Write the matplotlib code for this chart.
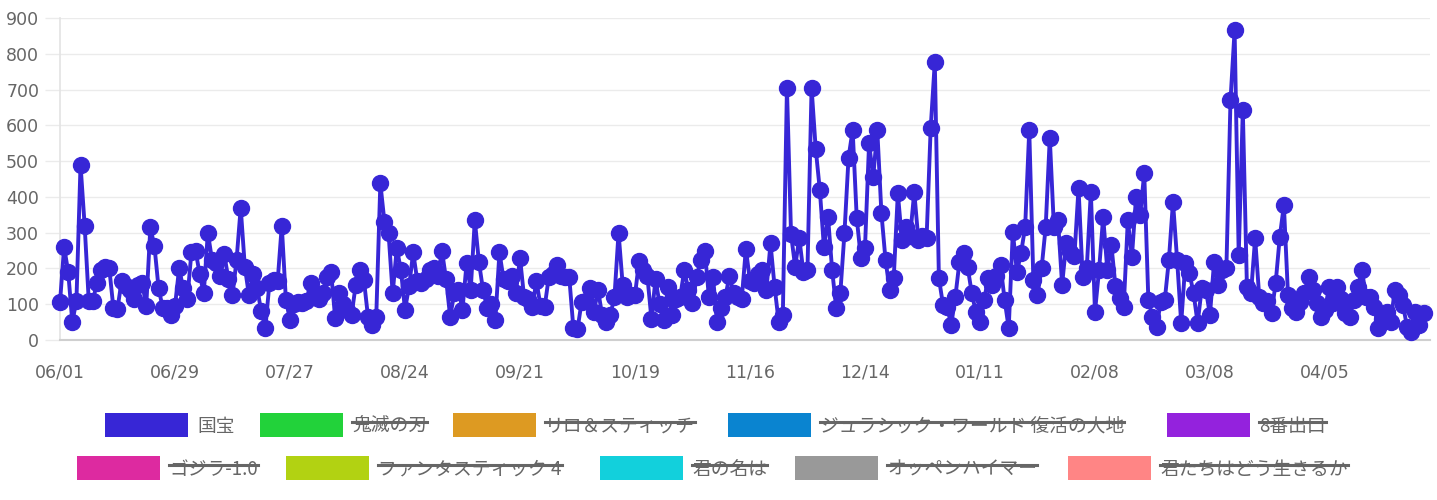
import matplotlib
matplotlib.use("Agg")
import matplotlib.pyplot as plt
import numpy as np
import pandas as pd
from matplotlib.patches import Rectangle
from matplotlib.lines import Line2D

# ---------------- data ----------------
start_date = "2024-06-01"
kokuho = [
    105, 260, 190, 50, 110, 490, 320, 110, 110, 160, 195, 205, 200, 90, 88, 165, 150, 140, 115, 155,
    160, 95, 315, 262, 145, 90, 90, 70, 95,
    200, 145, 115, 245, 250, 185, 130, 300, 225, 215, 180, 240, 170, 125, 225, 370, 205, 125, 185, 145,
    80, 33, 160, 168, 165, 320, 112,
    56, 100, 105, 103, 110, 160, 120, 115, 130, 176, 190, 61, 130, 100, 84, 70, 154, 196, 168, 64,
    42, 64, 438, 330, 298, 130, 257, 196,
    85, 150, 245, 165, 160, 170, 195, 200, 180, 250, 170, 65, 130, 140, 85, 215, 140, 335, 218, 140,
    90, 100, 55, 245, 170, 165, 180, 130,
    230, 120, 115, 92, 165, 95, 92, 175, 185, 210, 180, 175, 175, 33, 30, 106, 110, 145, 78, 140,
    70, 50, 70, 120, 300, 155, 120, 125,
    126, 220, 195, 180, 60, 170, 100, 56, 148, 70, 115, 120, 195, 140, 103, 175, 225, 250,
    120, 175, 50, 90, 120, 180, 130, 120, 115, 255, 165, 160, 185, 195, 140, 270, 148, 50, 70, 705,
    295, 205, 285, 190, 196, 705, 535, 420, 260, 345, 196, 89, 131, 298, 510, 587, 340, 229, 257, 550,
    455, 587, 355, 224, 140,
    173, 410, 280, 316, 290, 414, 280, 290, 285, 592, 777, 173, 98, 92, 42, 120, 218, 243, 204, 131,
    78, 50, 112, 173, 154, 180, 210, 112, 33, 302, 190, 243, 316, 587, 168, 126, 200, 316, 565, 316,
    335, 154, 271, 246, 235, 425,
    176, 200, 414, 78, 196, 344, 196, 265, 150, 117, 92, 335, 232, 400, 349, 467, 112, 64, 36, 106,
    112, 224, 386, 224, 47, 215, 187, 131, 47, 145, 140, 70, 218,
    154, 196, 200, 670, 866, 237, 643, 148, 131, 285, 120, 103, 110, 75, 160, 288, 377, 126, 89, 78,
    105, 131, 176, 140, 103, 64, 85, 148, 103, 148, 115, 75, 64, 112, 148, 196, 120, 120, 92, 33,
    60, 78, 50, 140, 126, 98, 36, 22, 78, 42, 75,
]
dates = pd.date_range(start_date, periods=len(kokuho), freq="D")
tick_every = 28
y_ticks = [0, 100, 200, 300, 400, 500, 600, 700, 800, 900]

series_labels = ["国宝", "鬼滅の刃", "リロ＆スティッチ", "ジュラシック・ワールド 復活の大地", "8番出口",
                 "ゴジラ-1.0", "ファンタスティック 4", "君の名は", "オッペンハイマー", "君たちはどう生きるか"]
series_colors = ["#3726d6", "#22d23a", "#dd9a22", "#0a84d0", "#9422dd",
                 "#dd2aa0", "#b2d212", "#12d0dc", "#999999", "#ff8585"]
series_hidden = [False, True, True, True, True, True, True, True, True, True]

# ---------------- figure ----------------
W, H = 1437, 500
fig = plt.figure(figsize=(W / 100, H / 100), dpi=100)
fig.patch.set_facecolor("white")

ax_left, ax_right, ax_top, ax_bottom = 60, 1430, 18, 340
ax = fig.add_axes([ax_left / W, 1 - ax_bottom / H, (ax_right - ax_left) / W, (ax_bottom - ax_top) / H])

x = np.arange(len(kokuho))
ax.plot(x, kokuho, color=series_colors[0], lw=2.8, marker="o", ms=11.5,
        markerfacecolor=series_colors[0], markeredgecolor=series_colors[0], clip_on=False, zorder=3)

px_per_day = 4.107
ax.set_xlim(0, (ax_right - ax_left) / px_per_day)
ax.set_ylim(0, 900)

ticks = x[::tick_every]
ax.set_xticks(ticks)
ax.set_xticklabels([dates[i].strftime("%m/%d") for i in ticks])
ax.set_yticks(y_ticks)
ax.set_yticklabels([str(v) for v in y_ticks])

ax.grid(axis="y", color="#ebebeb", lw=1.0, zorder=0)
ax.grid(axis="x", visible=False)
for s in ["top", "right"]:
    ax.spines[s].set_visible(False)
ax.spines["left"].set_color("#e3e3e3")
ax.spines["left"].set_linewidth(1.2)
ax.spines["bottom"].set_color("#cfcfcf")
ax.spines["bottom"].set_linewidth(1.5)
ax.tick_params(axis="y", length=11, width=1, color="#ebebeb", pad=4, labelsize=12.5, labelcolor="#666666")
ax.tick_params(axis="x", length=0, pad=17, labelsize=12.5, labelcolor="#666666")
ax.set_axisbelow(True)

# ---------------- legend ----------------
rows_y = [425, 468]
box_lefts = [105, 260, 453, 728, 1167, 77, 286, 600, 795, 1068]
box_w, box_h = 83, 24
cjk = ["Noto Sans CJK JP", "DejaVu Sans"]
fs = 13.5
fs_px = fs * 100 / 72

for i, (lab, col, hid) in enumerate(zip(series_labels, series_colors, series_hidden)):
    yc = rows_y[0] if i < 5 else rows_y[1]
    bl = box_lefts[i]
    fig.patches.append(Rectangle((bl / W, 1 - (yc + box_h / 2) / H), box_w / W, box_h / H,
                                 transform=fig.transFigure, facecolor=col, edgecolor="none"))
    baseline = yc + 0.37 * fs_px
    t = fig.text((bl + box_w + 9) / W, 1 - baseline / H, lab, family=cjk, fontsize=fs,
                 color="#666666", ha="left", va="baseline")
    if hid:
        renderer = fig.canvas.get_renderer()
        bb = t.get_window_extent(renderer)
        ym = 1 - (yc - 3) / H
        fig.add_artist(Line2D([bb.x0 / W, bb.x1 / W], [ym, ym], transform=fig.transFigure,
                              color="#666666", lw=2.2))

fig.savefig("out.png", dpi=100)
